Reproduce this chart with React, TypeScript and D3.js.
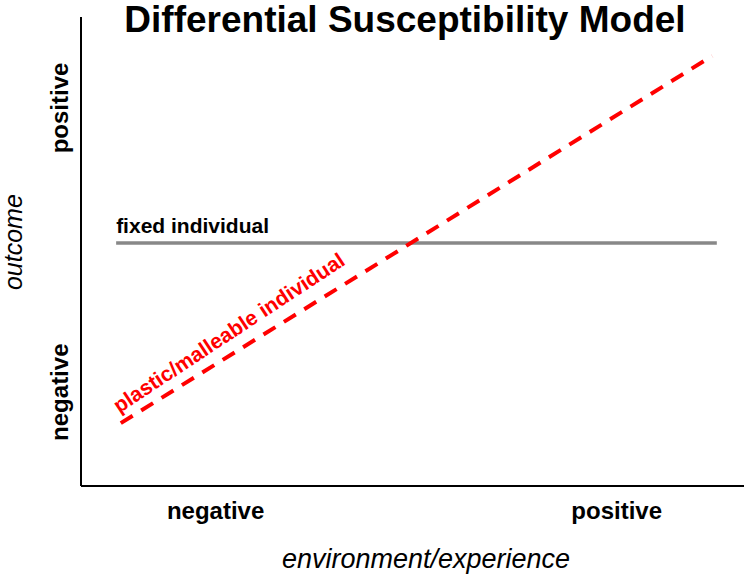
import React from "react";
import * as d3 from "d3";

const title = "Differential Susceptibility Model";
const xAxisTitle = "environment/experience";
const yAxisTitle = "outcome";
const xTickLabels = [
  { label: "negative", value: 0.203 },
  { label: "positive", value: 0.808 },
];
const yTickLabels = [
  { label: "negative", value: 0.2 },
  { label: "positive", value: 0.806 },
];
const fixedLine = [
  { x: 0.053, y: 0.518 },
  { x: 0.959, y: 0.518 },
];
const plasticLine = [
  { x: 0.06, y: 0.134 },
  { x: 0.952, y: 0.917 },
];
const fixedLabel = "fixed individual";
const plasticLabel = "plastic/malleable individual";

const W = 746;
const H = 576;
const FONT = "'Liberation Sans', Arial, Helvetica, sans-serif";

export default function App() {
  const x = d3.scaleLinear().domain([0, 1]).range([81, 744]);
  const y = d3.scaleLinear().domain([0, 1]).range([486, 17]);
  const line = d3
    .line<{ x: number; y: number }>()
    .x((d) => x(d.x))
    .y((d) => y(d.y));

  const p0 = { x: x(plasticLine[0].x), y: y(plasticLine[0].y) };
  const p1 = { x: x(plasticLine[1].x), y: y(plasticLine[1].y) };
  const angle = (Math.atan2(p1.y - p0.y, p1.x - p0.x) * 180) / Math.PI;

  return (
    <svg
      width={W}
      height={H}
      style={{ position: "absolute", left: 0, top: 0, background: "#fff" }}
      fontFamily={FONT}
    >
      <text x={405} y={32} textAnchor="middle" fontSize={37} fontWeight="bold" fill="#000">
        {title}
      </text>
      {/* axes */}
      <line x1={x(0)} x2={x(0)} y1={y(1)} y2={y(0)} stroke="#000" strokeWidth={2} />
      <line x1={x(0)} x2={x(1)} y1={y(0)} y2={y(0)} stroke="#000" strokeWidth={2} />

      {/* tick labels */}
      {xTickLabels.map((t) => (
        <text key={t.label} x={x(t.value)} y={519} textAnchor="middle" fontSize={24} fontWeight="bold">
          {t.label}
        </text>
      ))}
      {yTickLabels.map((t) => (
        <text
          key={t.label}
          transform={`translate(68,${y(t.value)}) rotate(-90)`}
          textAnchor="middle"
          fontSize={24}
          fontWeight="bold"
        >
          {t.label}
        </text>
      ))}
      <text x={426} y={568} textAnchor="middle" fontSize={27} fontStyle="italic">
        {xAxisTitle}
      </text>
      <text
        transform={`translate(22,${y(0.52)}) rotate(-90)`}
        textAnchor="middle"
        fontSize={25}
        fontStyle="italic"
      >
        {yAxisTitle}
      </text>

      {/* lines */}
      <path d={line(fixedLine) ?? ""} stroke="#888" strokeWidth={3.5} fill="none" />
      <text x={x(fixedLine[0].x)} y={233} fontSize={21} fontWeight="bold">
        {fixedLabel}
      </text>
      <path
        d={line(plasticLine) ?? ""}
        stroke="#ff0000"
        strokeWidth={4}
        strokeDasharray="14 10"
        fill="none"
      />
      <text
        transform={`translate(${p0.x},${p0.y}) rotate(${angle - 1.5}) translate(4,-9)`}
        fontSize={21}
        fontWeight="bold"
        fill="#ff0000"
      >
        {plasticLabel}
      </text>
    </svg>
  );
}
